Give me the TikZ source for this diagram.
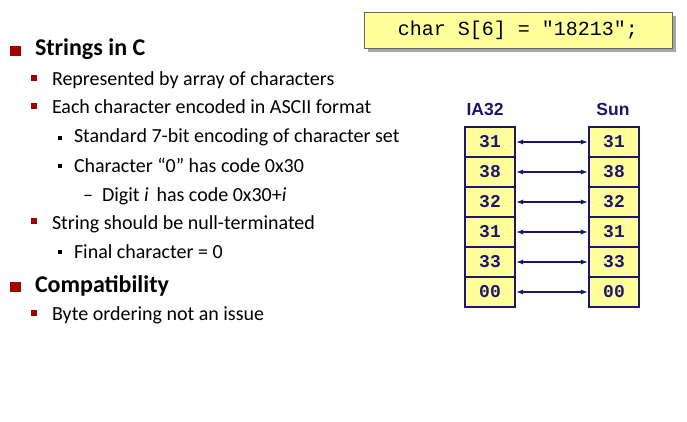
\documentclass[tikz,border=0pt]{standalone}
\usepackage{fontspec}
\setmainfont{Carlito}
\newfontfamily\codefont{Liberation Mono}
\newfontfamily\labelfont{Liberation Sans}
\usetikzlibrary{positioning,shadows}
\definecolor{slidered}{RGB}{165,0,0}
\definecolor{cellblue}{RGB}{30,20,110}
\definecolor{notepad}{RGB}{255,255,155}

\begin{document}
\begin{tikzpicture}[x=1pt,y=-1pt,>=latex,node distance=30pt]
    \tikzstyle{every node}=[inner sep=0pt,outer sep=0pt];
    \tikzstyle{cell}=[draw=cellblue,line width=1.3pt,fill=notepad,minimum width=50pt,minimum height=30pt,text=cellblue,font=\codefont\bfseries\fontsize{18}{18}\selectfont];
    \tikzstyle{item}=[anchor=base west,font=\fontsize{20}{24}\selectfont];
    \tikzstyle{topic}=[anchor=base west,font=\bfseries\fontsize{24}{30}\selectfont];
    \tikzstyle{bigsq}=[fill=slidered,minimum width=11pt,minimum height=10pt];
    \tikzstyle{redsq}=[fill=slidered,minimum size=6pt];
    \tikzstyle{blacksq}=[fill=black,minimum size=4pt];
    \tikzstyle{head}=[text=cellblue,font=\labelfont\bfseries\fontsize{17.5}{18}\selectfont];
    \useasboundingbox (0,0) rectangle (687,421);

    % declaration box
    \node[draw=black!60,fill=notepad,minimum width=308pt,minimum height=36pt,font=\codefont\fontsize{20}{24}\selectfont,drop shadow={shadow xshift=4pt,shadow yshift=-4pt,fill=black!50,opacity=.7}] (decl) at (518,30) {char S[6] = "18213";};

    % bullet list
    \node[bigsq] (b1) at (15,51) {};
    \node[topic] (t1) at (35,55) {Strings in C};
    \node[redsq] (b2) at (34,77.5) {};
    \node[item] (t2) at (52,85) {Represented by array of characters};
    \node[redsq] (b3) at (34,106) {};
    \node[item] (t3) at (52,113) {Each character encoded in ASCII format};
    \node[blacksq] (b4) at (60,138) {};
    \node[item] (t4) at (74,142) {Standard 7-bit encoding of character set};
    \node[blacksq] (b5) at (60,166) {};
    \node[item] (t5) at (74,172) {Character “0” has code 0x30};
    \node[item] (d6) at (83,201) {–};
    \node[item] (t6) at (102,201) {Digit \textit{i}\, has code 0x30+\textit{i}};
    \node[redsq] (b7) at (34,220.5) {};
    \node[item] (t7) at (52,229) {String should be null-terminated};
    \node[blacksq] (b8) at (60,252) {};
    \node[item] (t8) at (74,258) {Final character = 0};
    \node[bigsq] (b9) at (15,287) {};
    \node[topic] (t9) at (35,292) {Compatibility};
    \node[redsq] (b10) at (34,313) {};
    \node[item] (t10) at (52,320) {Byte ordering not an issue};

    % byte columns
    \node[head] (ia) at (485,109) {IA32};
    \node[head] (sun) at (613,109) {Sun};

    \node[cell] (l0) at (490,142) {31};
    \node[cell] (l1) [below of=l0] {38};
    \node[cell] (l2) [below of=l1] {32};
    \node[cell] (l3) [below of=l2] {31};
    \node[cell] (l4) [below of=l3] {33};
    \node[cell] (l5) [below of=l4] {00};

    \node[cell] (r0) at (614,142) {31};
    \node[cell] (r1) [below of=r0] {38};
    \node[cell] (r2) [below of=r1] {32};
    \node[cell] (r3) [below of=r2] {31};
    \node[cell] (r4) [below of=r3] {33};
    \node[cell] (r5) [below of=r4] {00};

    \tikzstyle{every path}=[draw=cellblue,line width=1.3pt,shorten <=1.5pt,shorten >=1.5pt];
    \draw[<->] (l0) -- (r0);
    \draw[<->] (l1) -- (r1);
    \draw[<->] (l2) -- (r2);
    \draw[<->] (l3) -- (r3);
    \draw[<->] (l4) -- (r4);
    \draw[<->] (l5) -- (r5);

\end{tikzpicture}
\end{document}
